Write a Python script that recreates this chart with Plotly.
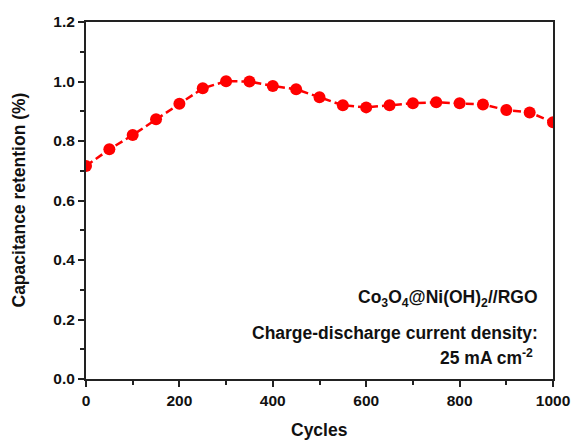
import plotly.graph_objects as go

cycles = [0, 50, 100, 150, 200, 250, 300, 350, 400, 450, 500, 550, 600, 650, 700, 750, 800, 850, 900, 950, 1000]
retention = [0.716, 0.772, 0.820, 0.873, 0.925, 0.977, 1.001, 1.000, 0.985, 0.974, 0.947, 0.920, 0.913, 0.920, 0.927, 0.930, 0.927, 0.923, 0.904, 0.896, 0.863]
x_ticks = [0, 200, 400, 600, 800, 1000]
y_ticks = [0.0, 0.2, 0.4, 0.6, 0.8, 1.0, 1.2]
y_tick_labels = ["0.0", "0.2", "0.4", "0.6", "0.8", "1.0", "1.2"]
x_title = "Cycles"
y_title = "Capacitance retention (%)"

font_family = "Liberation Sans, Arial, sans-serif"

fig = go.Figure()
fig.add_trace(go.Scatter(
    x=cycles, y=retention, mode="lines+markers",
    line=dict(color="#ff0000", width=2.5, dash="8px,4px"),
    marker=dict(color="#ff0000", size=12),
    showlegend=False,
))

axis_common = dict(
    showline=True, linecolor="#222222", linewidth=2, mirror=True,
    ticks="outside", ticklen=6, tickwidth=1.5, tickcolor="#222222",
    showgrid=False, zeroline=False, automargin=False,
    tickfont=dict(family=font_family, size=15.5, color="#111111"),
)

fig.update_xaxes(
    range=[0, 1000], tickvals=x_ticks, ticktext=["<b>%d</b>" % t for t in x_ticks],
    minor=dict(dtick=100, ticks="outside", ticklen=4, tickcolor="#222222", tickwidth=1.5, showgrid=False),
    **axis_common,
)
fig.update_yaxes(
    range=[0, 1.2], tickvals=y_ticks, ticktext=["<b>%s</b>" % t for t in y_tick_labels],
    minor=dict(dtick=0.1, ticks="outside", ticklen=4, tickcolor="#222222", tickwidth=1.5, showgrid=False),
    **axis_common,
)

title_font = dict(family=font_family, size=17.5, color="#111111")
fig.add_annotation(x=0.5, y=-0.143, xref="paper", yref="paper", xanchor="center", yanchor="middle",
                   text="<b>%s</b>" % x_title, showarrow=False, font=title_font)
fig.add_annotation(x=-0.1456, y=0.5, xref="paper", yref="paper", xanchor="center", yanchor="middle",
                   text="<b>%s</b>" % y_title, showarrow=False, font=title_font, textangle=-90)

ann_font = dict(family=font_family, size=17.5, color="#111111")
fig.add_annotation(x=0.972, y=0.225, xref="paper", yref="paper", xanchor="right", yanchor="middle",
                   text="<b>Co<sub>3</sub>O<sub>4</sub>@Ni(OH)<sub>2</sub>//RGO</b>", showarrow=False, font=ann_font)
fig.add_annotation(x=0.972, y=0.129, xref="paper", yref="paper", xanchor="right", yanchor="middle",
                   text="<b>Charge-discharge current density:</b>", showarrow=False, font=ann_font)
fig.add_annotation(x=0.962, y=0.062, xref="paper", yref="paper", xanchor="right", yanchor="middle",
                   text="<b>25 mA cm<sup>-2</sup></b>", showarrow=False, font=ann_font)

fig.update_layout(
    width=571, height=440,
    margin=dict(l=86, r=18, t=22, b=61),
    plot_bgcolor="white", paper_bgcolor="white",
)
fig.write_html("out.html")
